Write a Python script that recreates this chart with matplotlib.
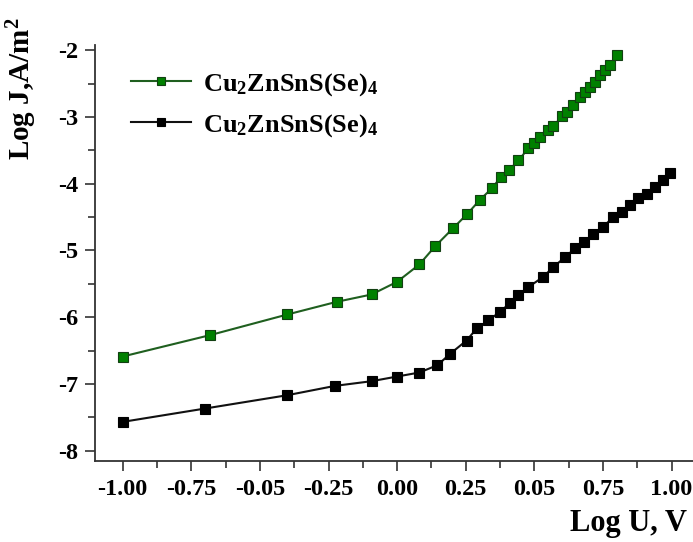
import matplotlib
matplotlib.use("Agg")
import matplotlib.pyplot as plt
from matplotlib.ticker import MultipleLocator

plt.rcParams['font.family'] = ['Liberation Serif', 'DejaVu Serif']
plt.rcParams['font.weight'] = 'bold'
plt.rcParams['mathtext.default'] = 'regular'

# Data
x_green = [-1.0, -0.682, -0.40, -0.22, -0.093, 0.0, 0.081, 0.138, 0.203, 0.254,
           0.302, 0.345, 0.378, 0.409, 0.442, 0.478, 0.499, 0.521, 0.551, 0.569,
           0.600, 0.618, 0.642, 0.667, 0.685, 0.703, 0.721, 0.739, 0.758, 0.776, 0.802]
y_green = [-6.59, -6.27, -5.96, -5.77, -5.66, -5.47, -5.21, -4.94, -4.67, -4.46,
           -4.24, -4.07, -3.90, -3.79, -3.65, -3.47, -3.39, -3.30, -3.20, -3.14,
           -2.99, -2.93, -2.82, -2.70, -2.62, -2.55, -2.47, -2.37, -2.30, -2.22, -2.07]

x_black = [-1.0, -0.70, -0.40, -0.226, -0.093, 0.0, 0.081, 0.147, 0.193, 0.253,
           0.290, 0.332, 0.375, 0.411, 0.442, 0.478, 0.531, 0.569, 0.612, 0.648,
           0.681, 0.715, 0.749, 0.788, 0.818, 0.849, 0.879, 0.910, 0.940, 0.968, 0.995]
y_black = [-7.57, -7.37, -7.17, -7.03, -6.96, -6.89, -6.83, -6.72, -6.55, -6.35,
           -6.17, -6.05, -5.92, -5.79, -5.67, -5.55, -5.40, -5.25, -5.10, -4.97,
           -4.87, -4.75, -4.65, -4.50, -4.42, -4.32, -4.22, -4.15, -4.05, -3.95, -3.84]

x_ticks = [-1.0, -0.75, -0.5, -0.25, 0.0, 0.25, 0.5, 0.75, 1.0]
x_tick_labels = ['-1.00', '-0.75', '-0.05', '-0.25', '0.00', '0.25', '0.05', '0.75', '1.00']
y_ticks = [-8, -7, -6, -5, -4, -3, -2]
y_tick_labels = ['-8', '-7', '-6', '-5', '-4', '-3', '-2']

series_label = r'Cu$_2$ZnSnS(Se)$_4$'

fig = plt.figure(figsize=(6.93, 5.42), dpi=100)
ax = fig.add_axes([0.137, 0.149, 0.863, 0.768])

ax.plot(x_green, y_green, color='#1f5f1f', lw=1.5, marker='s', ms=7.5,
        mfc='#008000', mec='#123f12', mew=0.8, label=series_label)
ax.plot(x_black, y_black, color='#111111', lw=1.5, marker='s', ms=7.5,
        mfc='#000000', mec='#000000', mew=0.8, label=series_label)

ax.set_xlim(-1.101, 1.078)
ax.set_ylim(-8.16, -1.92)

ax.set_xticks(x_ticks)
ax.set_xticklabels(x_tick_labels)
ax.set_yticks(y_ticks)
ax.set_yticklabels(y_tick_labels)
ax.xaxis.set_minor_locator(MultipleLocator(0.125))
ax.yaxis.set_minor_locator(MultipleLocator(0.5))

for s in ['top', 'right']:
    ax.spines[s].set_visible(False)
for s in ['left', 'bottom']:
    ax.spines[s].set_color('#333333')
    ax.spines[s].set_linewidth(1.3)

ax.tick_params(axis='both', which='major', direction='out', length=7, width=1.2,
               color='#333333', labelsize=17.5, pad=6)
ax.tick_params(axis='y', which='major', pad=5)
ax.tick_params(axis='both', which='minor', direction='out', length=5, width=1.2,
               color='#333333')
for lab in ax.get_xticklabels() + ax.get_yticklabels():
    lab.set_fontweight('bold')

ax.set_ylabel('Log J,A/m$^2$', fontsize=21, fontweight='bold')
ax.yaxis.set_label_coords(-0.093, 0.895)
ax.set_xlabel('Log U, V', fontsize=22, fontweight='bold')
ax.xaxis.set_label_coords(0.99, -0.115)
ax.xaxis.label.set_horizontalalignment('right')

leg = ax.legend(loc='upper left', bbox_to_anchor=(0.02, 0.995), frameon=False,
                numpoints=1, handlelength=2.3, handletextpad=0.45,
                labelspacing=0.55, markerscale=0.85,
                prop={'family': 'Liberation Serif', 'weight': 'bold', 'size': 19})

fig.savefig('out.png', dpi=100)
